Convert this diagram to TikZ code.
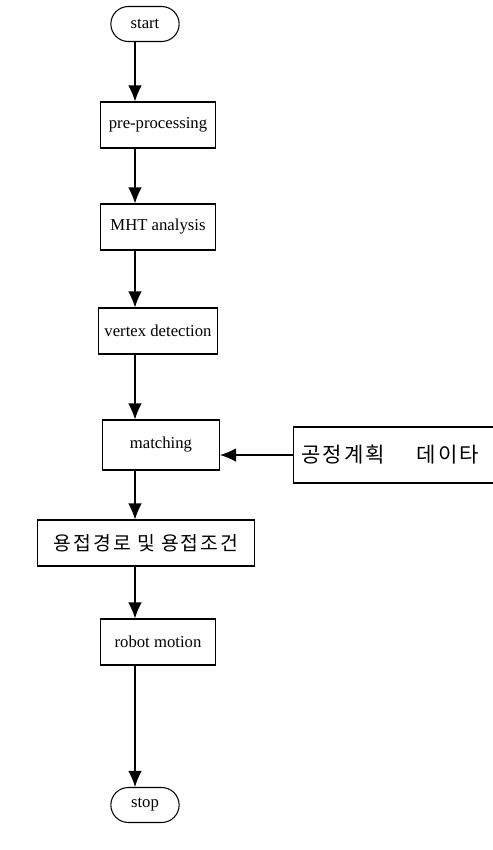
\documentclass[tikz,border=0pt]{standalone}
\usepackage{fontspec}
\setmainfont{Liberation Serif}
\newfontfamily\kr[LetterSpace=10]{Noto Sans CJK KR}
\usetikzlibrary{shapes.misc, arrows.meta, positioning}

\begin{document}
\begin{tikzpicture}[x=0.02cm, y=-0.02cm, line width=0.6pt, >={Latex[length=3.2mm,width=2.7mm]},
    box/.style={draw, rectangle, minimum width=2.3cm, minimum height=0.92cm, font=\fontsize{9.5}{11}\selectfont},
    term/.style={draw, rounded rectangle, minimum width=1.6cm, minimum height=0.7cm, font=\fontsize{9.5}{11}\selectfont},
    krbox/.style={box, font=\kr\fontsize{11}{13}\selectfont}]
    \useasboundingbox (0,0) rectangle (493,850);
    \coordinate (axis) at (135,0);

    \node[term] (start) at (145,24) {start};
    \node[box] (pre) at (158,125) {pre-processing};
    \node[box] (mht) at (158,227) {MHT analysis};
    \node[box] (vertex) at (158,331) {vertex detection};
    \node[box, minimum width=2.34cm, minimum height=1cm] (match) at (161,445) {matching};
    \node[krbox, anchor=west, minimum width=4.3cm, text width=4cm, align=left, minimum height=1.12cm,
          font=\kr\fontsize{12}{14}\selectfont] (data) at (293,455) {공정계획\hspace{1.5em}데이타};
    \node[krbox, minimum width=4.34cm] (weld) at (146,543) {용접경로 및 용접조건};
    \node[box] (robot) at (158,642) {robot motion};
    \node[term] (stop) at (145,805) {stop};

    \draw[->] (start.south -| axis) -- (pre.north -| axis);
    \draw[->] (pre.south -| axis) -- (mht.north -| axis);
    \draw[->] (mht.south -| axis) -- (vertex.north -| axis);
    \draw[->] (vertex.south -| axis) -- (match.north -| axis);
    \draw[->] (data.west) -- (data.west -| match.east);
    \draw[->] (match.south -| axis) -- (weld.north -| axis);
    \draw[->] (weld.south -| axis) -- (robot.north -| axis);
    \draw[->] (robot.south -| axis) -- (stop.north -| axis);
\end{tikzpicture}
\end{document}
